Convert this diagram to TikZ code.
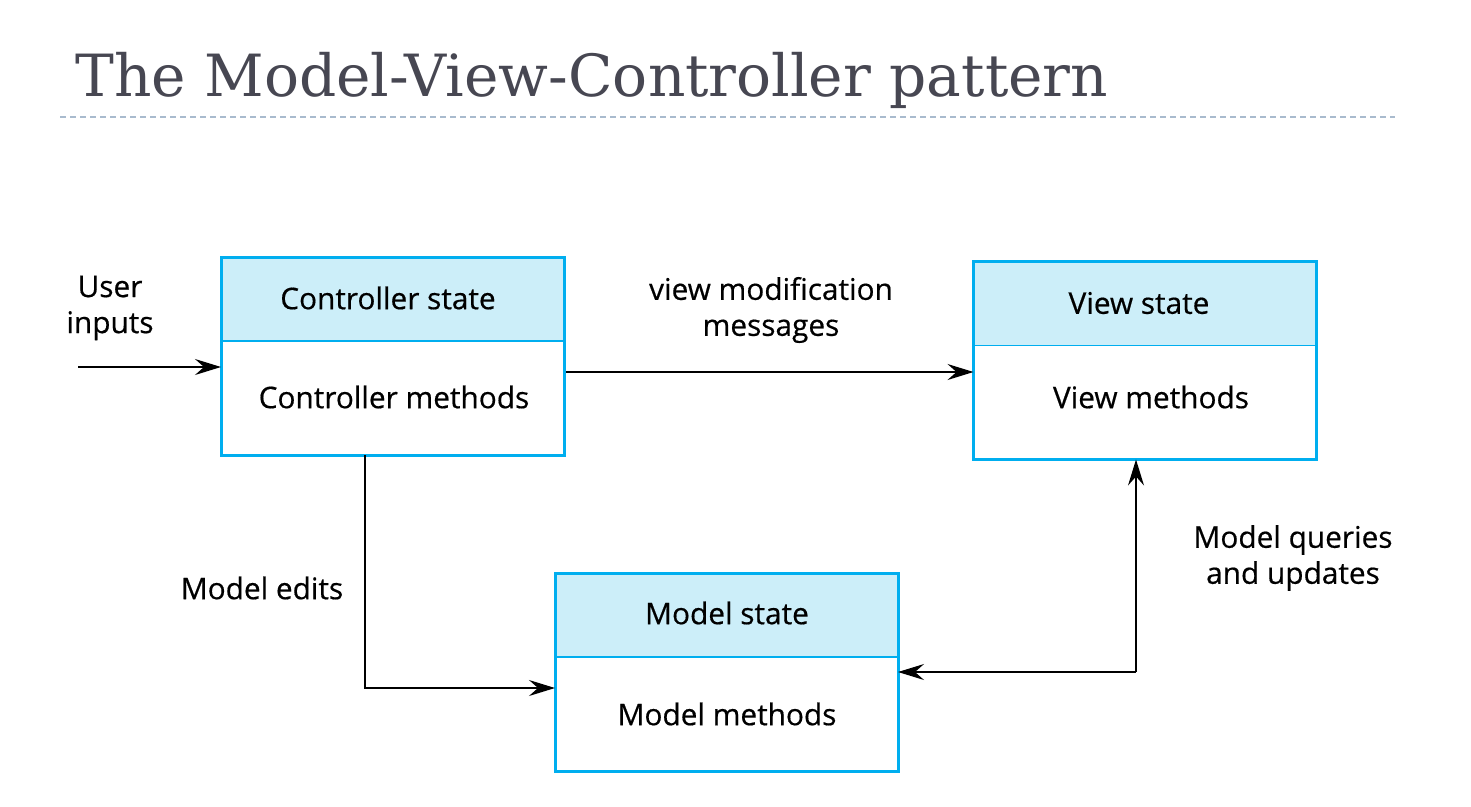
\documentclass[tikz,border=0pt]{standalone}
\usepackage{fontspec}
\setmainfont{Open Sans}
\newfontfamily\bodyf{Open Sans}[FakeBold=0.5]
\newfontfamily\titlefont{DejaVu Serif}
\usetikzlibrary{arrows.meta}
\pgfdeclarelayer{bg}
\pgfsetlayers{bg,main}
\definecolor{cyanb}{HTML}{00AEEF}
\definecolor{lightb}{HTML}{CCEEF9}
\definecolor{titlec}{HTML}{474752}
\definecolor{dashc}{HTML}{A9BBCE}
\tikzset{
  box/.style={draw=cyanb, line width=3pt, minimum width=343pt, minimum height=198pt, inner sep=0pt, outer sep=0pt},
  lbl/.style={font=\bodyf\fontsize{29.8}{36}\selectfont, align=center, inner sep=0pt},
  arr/.style={-{Stealth[length=26pt,width=16pt,inset=9pt]}, line width=1.4pt, black},
  divider/.style={draw=cyanb, line width=1.5pt}
}
\begin{document}
\begin{tikzpicture}[x=1pt,y=-1pt]
\useasboundingbox (0,0) rectangle (1471,806);
% title
\node[anchor=base west, inner sep=0pt, text=titlec, font=\titlefont\fontsize{58.2}{66}\selectfont] (title) at (75,96) {The Model-View-Controller pattern};
\coordinate (dl) at (60,117);
\coordinate (dr) at (1395,117);
\draw[dashc, line width=1.5pt, dash pattern=on 6pt off 4pt] (dl) -- (dr);
% boxes
\node[box] (C) at (392.5,356) {};
\node[box] (V) at (1145,360.5) {};
\node[box] (M) at (726.5,672) {};
\begin{pgfonlayer}{bg}
\fill[lightb] (C.north west) rectangle ([yshift=-84pt]C.north east);
\fill[lightb] (V.north west) rectangle ([yshift=-84pt]V.north east);
\fill[lightb] (M.north west) rectangle ([yshift=-84pt]M.north east);
\end{pgfonlayer}
\draw[divider] ([yshift=-84pt]C.north west) -- ([yshift=-84pt]C.north east);
\draw[divider] ([yshift=-84pt]V.north west) -- ([yshift=-84pt]V.north east);
\draw[divider] ([yshift=-84pt]M.north west) -- ([yshift=-84pt]M.north east);
% box texts
\node[lbl] (Cs) at (388,298) {Controller state};
\node[lbl] (Cm) at (394,397) {Controller methods};
\node[lbl] (Vs) at (1139,303) {View state};
\node[lbl] (Vm) at (1151,397) {View methods};
\node[lbl] (Ms) at (727,613) {Model state};
\node[lbl] (Mm) at (727,714) {Model methods};
% connectors
\coordinate (ui) at (78,367);
\draw[arr] (ui) -- (ui -| C.west);
\node[lbl] (uil) at (110,308) {User\\inputs};
\coordinate (vm) at (566,372);
\draw[arr] (vm) -- (vm -| V.west);
\node[lbl] (vml) at (771,310) {view modification\\messages};
\coordinate (me) at (365,455);
\coordinate (mec) at (365,688);
\draw[arr] (me) -- (mec) -- (mec -| M.west);
\node[lbl] (mel) at (262,588) {Model edits};
\coordinate (mq) at (1136,672);
\draw[arr] (mq) -- (mq -| M.east);
\draw[arr] (mq) -- (mq |- V.south);
\node[lbl] (mql) at (1293,558) {Model queries\\and updates};
\end{tikzpicture}
\end{document}
